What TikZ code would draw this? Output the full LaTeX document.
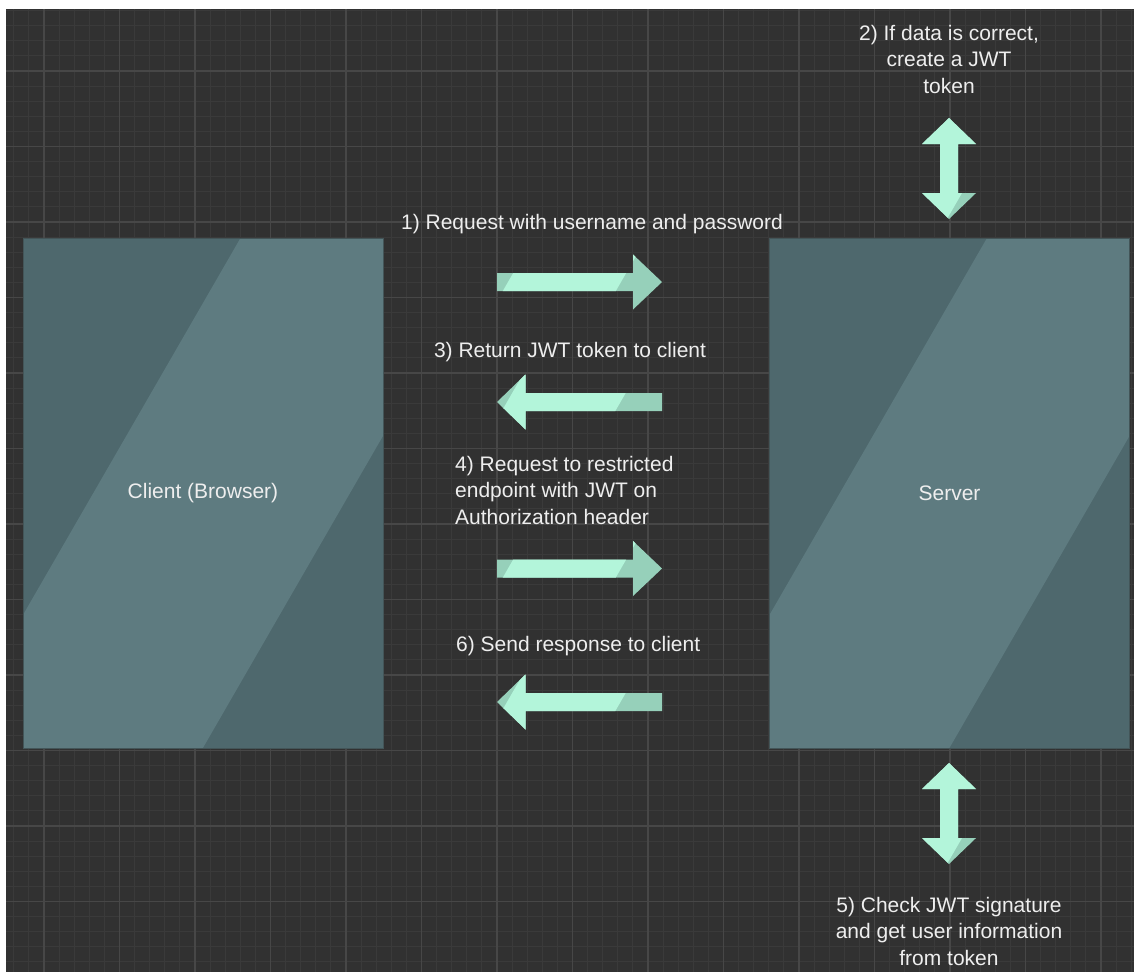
\documentclass[tikz,border=0pt]{standalone}
\usepackage{fontspec}
\setmainfont{Liberation Sans}
\definecolor{bg}{HTML}{313131}
\definecolor{gridminor}{HTML}{3A3A3A}
\definecolor{gridmajor}{HTML}{474747}
\definecolor{boxdark}{HTML}{4E686D}
\definecolor{boxlight}{HTML}{5E7B80}
\definecolor{boxline}{HTML}{435558}
\definecolor{arrlight}{HTML}{B3F5DA}
\definecolor{arrdark}{HTML}{96D0BA}
\definecolor{txt}{HTML}{EEEEEE}
\tikzset{
  lbl/.style={text=txt, inner sep=0pt, font=\fontsize{21pt}{26.5pt}\selectfont},
  box/.style={draw=boxline, line width=1pt, minimum width=360pt,
    minimum height=510pt, inner sep=0pt, outer sep=0pt, text=txt,
    font=\fontsize{21pt}{26.5pt}\selectfont},
  boxshade/.pic={
    \fill[boxdark] (0,0) rectangle (360,510);
    \begin{scope}
      \clip (0,0) rectangle (360,510);
      \fill[boxlight] (217.5,0) -- (474.2,0) -- (179.9,510) -- (-76.8,510) -- cycle;
    \end{scope}
  },
  rarrow/.pic={
    \fill[arrdark] (-82.5,-9) -- (53.5,-9) -- (53.5,-27.5) -- (82.5,0) -- (53.5,27.5) -- (53.5,9) -- (-82.5,9) -- cycle;
    \begin{scope}
      \clip (-82.5,-9) -- (53.5,-9) -- (53.5,-27.5) -- (82.5,0) -- (53.5,27.5) -- (53.5,9) -- (-82.5,9) -- cycle;
      \fill[arrlight] (-54.2,-30) -- (58.8,-30) -- (24.2,30) -- (-88.8,30) -- cycle;
    \end{scope}
  },
  larrow/.pic={
    \fill[arrdark] (82.5,-9) -- (-54,-9) -- (-54,-27.5) -- (-82.5,0) -- (-54,27.5) -- (-54,9) -- (82.5,9) -- cycle;
    \begin{scope}
      \clip (82.5,-9) -- (-54,-9) -- (-54,-27.5) -- (-82.5,0) -- (-54,27.5) -- (-54,9) -- (82.5,9) -- cycle;
      \fill[arrlight] (-55.2,-30) -- (58.3,-30) -- (23.7,30) -- (-89.8,30) -- cycle;
    \end{scope}
  },
  vdarrow/.pic={
    \fill[arrdark] (0,-50.5) -- (27,-24.5) -- (9,-24.5) -- (9,24.5) -- (27,24.5) -- (0,50.5) -- (-27,24.5) -- (-9,24.5) -- (-9,-24.5) -- (-27,-24.5) -- cycle;
    \begin{scope}
      \clip (0,-50.5) -- (27,-24.5) -- (9,-24.5) -- (9,24.5) -- (27,24.5) -- (0,50.5) -- (-27,24.5) -- (-9,24.5) -- (-9,-24.5) -- (-27,-24.5) -- cycle;
      \fill[arrlight] (-40,-60) -- (61.8,-60) -- (-7.5,60) -- (-40,60) -- cycle;
    \end{scope}
  }
}
\begin{document}
\begin{tikzpicture}[x=1pt,y=-1pt]
\useasboundingbox (0,0) rectangle (1134,972);
\fill[white] (0,0) rectangle (1134,972);
\fill[bg] (6,9) rectangle (1134,972);
\begin{scope}
  \clip (6,9) rectangle (1134,972);
  \foreach \i in {0,...,75} {\draw[gridminor, line width=1pt] ({-1.3+15.1*\i},9) -- ({-1.3+15.1*\i},972);}
  \foreach \i in {0,...,64} {\draw[gridminor, line width=1pt] (6,{-4.5+15.1*\i}) -- (1134,{-4.5+15.1*\i});}
  \foreach \i in {0,...,14} {\draw[gridmajor, line width=1.5pt] ({44+75.5*\i},9) -- ({44+75.5*\i},972);}
  \foreach \i in {0,...,11} {\draw[gridmajor, line width=1.5pt] (6,{71+75.5*\i}) -- (1134,{71+75.5*\i});}
\end{scope}

\coordinate (clientnw) at (23,238);
\coordinate (servernw) at (769.5,238);
\pic at (clientnw) {boxshade};
\pic at (servernw) {boxshade};
\node[box, anchor=north west] (client) at (clientnw) {Client (Browser)};
\node[box, anchor=north west] (server) at (servernw) {Server};

\coordinate (a1) at (579.5,282);
\coordinate (a3) at (579.5,402);
\coordinate (a4) at (579.5,568.5);
\coordinate (a6) at (579.5,702);
\coordinate (v2) at (949,168.5);
\coordinate (v5) at (949,813.5);
\pic at (a1) {rarrow};
\pic at (a3) {larrow};
\pic at (a4) {rarrow};
\pic at (a6) {larrow};
\pic at (v2) {vdarrow};
\pic at (v5) {vdarrow};

\node[lbl, anchor=base] (t1) at (592,229) {1) Request with username and password};
\node[lbl, anchor=base] (t2) at (949,40) {\begin{tabular}[t]{@{}c@{}}2) If data is correct,\\create a JWT\\token\end{tabular}};
\node[lbl, anchor=base] (t3) at (570,357) {3) Return JWT token to client};
\node[lbl, anchor=base west] (t4) at (455,471) {\begin{tabular}[t]{@{}l@{}}4) Request to restricted\\endpoint with JWT on\\Authorization header\end{tabular}};
\node[lbl, anchor=base] (t5) at (949,912) {\begin{tabular}[t]{@{}c@{}}5) Check JWT signature\\and get user information\\from token\end{tabular}};
\node[lbl, anchor=base west] (t6) at (456,651) {6) Send response to client};
\end{tikzpicture}
\end{document}
